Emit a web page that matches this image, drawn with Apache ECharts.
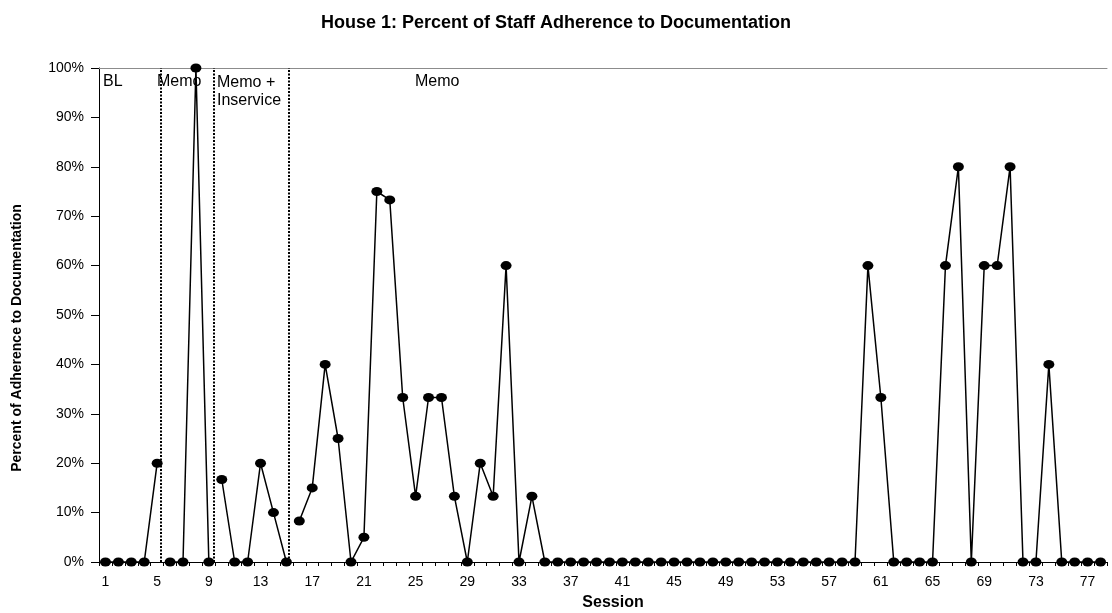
<!DOCTYPE html>
<html>
<head>
<meta charset="utf-8">
<title>House 1: Percent of Staff Adherence to Documentation</title>
<script src="https://cdn.jsdelivr.net/npm/echarts@6/dist/echarts.min.js"></script>
<style>
  html, body { margin: 0; padding: 0; background: #fff; }
  #chart { width: 1112px; height: 613px; }
</style>
</head>
<body>
<div id="chart"></div>
<script>
  // sessions 1..78 on the category axis
  var sessions = Array.from({ length: 78 }, function (_, i) { return String(i + 1); });

  // each phase: first session + adherence values (%)
  var blStart = 1;
  var blValues = [0, 0, 0, 0, 20];

  var memoStart = 6;
  var memoValues = [0, 0, 100, 0];

  var inserviceStart = 10;
  var inserviceValues = [16.7, 0, 0, 20, 10, 0];

  var memo2Start = 16;
  var memo2Values = [
    8.3, 15, 40, 25, 0, 5, 75, 73.3, 33.3, 13.3,
    33.3, 33.3, 13.3, 0, 20, 13.3, 60, 0, 13.3, 0,
    0, 0, 0, 0, 0, 0, 0, 0, 0, 0, 0, 0,
    0, 0, 0, 0, 0, 0, 0, 0, 0, 0, 0, 0,
    60, 33.3, 0, 0, 0, 0, 60, 80, 0, 60,
    60, 80, 0, 0, 40, 0, 0, 0, 0
  ];

  // phase change lines (session units, drawn on a hidden value axis)
  var phaseLines = [5.3, 9.35, 15.15];

  var yTicks = [0, 10, 20, 30, 40, 50, 60, 70, 80, 90, 100];

  // spread a phase over the full session list, null outside it
  function phaseSeries(start, values) {
    var out = sessions.map(function () { return null; });
    values.forEach(function (v, i) { out[start - 1 + i] = v; });
    return out;
  }

  var font = 'Liberation Sans, Arial, sans-serif';

  function lineSeries(name, start, values) {
    return {
      name: name,
      type: 'line',
      xAxisIndex: 0,
      data: phaseSeries(start, values),
      connectNulls: false,
      showAllSymbol: true,
      symbol: 'circle',
      symbolSize: [11, 9],
      itemStyle: { color: '#000' },
      lineStyle: { color: '#000', width: 1.5 },
      z: 3
    };
  }

  var chart = echarts.init(document.getElementById('chart'), null, { renderer: 'canvas' });

  var option = {
    animation: false,
    backgroundColor: '#ffffff',
    textStyle: { fontFamily: font },
    title: {
      text: 'House 1: Percent of Staff Adherence to Documentation',
      left: 'center',
      top: 9,
      textStyle: { fontFamily: font, fontSize: 18, fontWeight: 'bold', color: '#000' }
    },
    grid: { left: 99, right: 5, top: 68, bottom: 51, outerBoundsMode: 'none', containLabel: false },
    xAxis: [{
      type: 'category',
      data: sessions,
      boundaryGap: true,
      name: 'Session',
      nameLocation: 'middle',
      nameGap: 33,
      nameTextStyle: { fontFamily: font, fontSize: 16, fontWeight: 'bold', color: '#000', padding: [0, 0, 0, 20] },
      axisLine: { lineStyle: { color: '#000', width: 1 } },
      axisTick: { show: true, interval: 0, length: 4, lineStyle: { color: '#000' } },
      axisLabel: { interval: 3, margin: 13, fontFamily: font, fontSize: 14, color: '#000' },
      splitLine: { show: false }
    }, {
      type: 'value',
      min: 0.5,
      max: 78.5,
      position: 'top',
      axisLine: { show: true, onZero: false, lineStyle: { color: '#8c8c8c', width: 1 } },
      axisTick: { show: false },
      axisLabel: { show: false },
      splitLine: { show: false }
    }],
    yAxis: {
      type: 'value',
      min: yTicks[0],
      max: yTicks[yTicks.length - 1],
      interval: 10,
      name: 'Percent of Adherence to Documentation',
      nameLocation: 'middle',
      nameGap: 75,
      nameTextStyle: { fontFamily: font, fontSize: 14, fontWeight: 'bold', color: '#000', padding: [0, 46, 0, 0] },
      axisLine: { show: true, lineStyle: { color: '#000', width: 1 } },
      axisTick: { show: true, length: 8, lineStyle: { color: '#000' } },
      axisLabel: { formatter: '{value}%', margin: 15, fontFamily: font, fontSize: 14, color: '#000' },
      splitLine: { show: false }
    },
    series: [
      lineSeries('BL', blStart, blValues),
      lineSeries('Memo', memoStart, memoValues),
      lineSeries('Memo + Inservice', inserviceStart, inserviceValues),
      lineSeries('Memo 2', memo2Start, memo2Values),
      {
        name: 'phases',
        type: 'line',
        xAxisIndex: 1,
        data: [],
        silent: true,
        markLine: {
          silent: true,
          symbol: ['none', 'none'],
          label: { show: false },
          lineStyle: { color: '#000', width: 2, type: [2, 1.5] },
          data: phaseLines.map(function (x) { return { xAxis: x }; })
        },
        z: 2
      }
    ],
    graphic: [
      { type: 'text', left: 103, top: 74, style: { text: 'BL', font: '16px ' + font, fill: '#000' } },
      { type: 'text', left: 157, top: 74, style: { text: 'Memo', font: '16px ' + font, fill: '#000' } },
      { type: 'text', left: 217, top: 74, style: { text: 'Memo +\nInservice', font: '16px ' + font, fill: '#000', lineHeight: 18 } },
      { type: 'text', left: 415, top: 74, style: { text: 'Memo', font: '16px ' + font, fill: '#000' } }
    ]
  };

  chart.setOption(option);
</script>
</body>
</html>
